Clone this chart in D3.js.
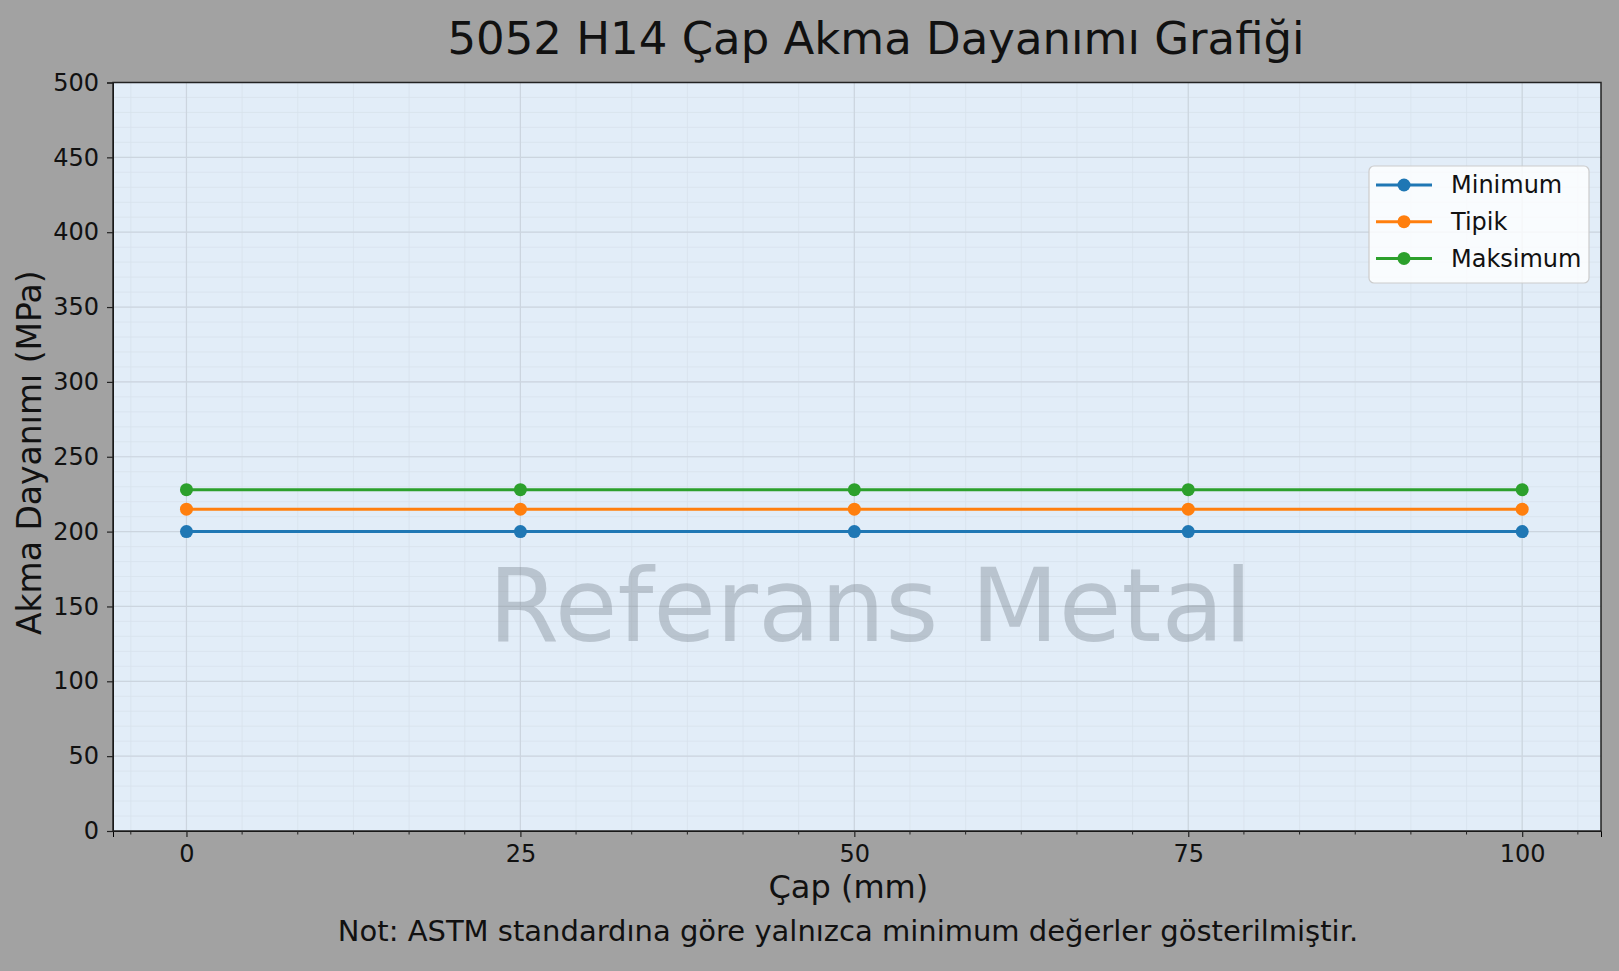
<!DOCTYPE html>
<html>
<head>
<meta charset="utf-8">
<script src="https://cdn.jsdelivr.net/npm/d3@7"></script>
<style>
  html, body { margin: 0; padding: 0; background: #a2a2a2; }
  svg { display: block; font-family: "DejaVu Sans", sans-serif; }
</style>
</head>
<body>
<div id="chart"></div>
<script>
const diameters = [0, 25, 50, 75, 100];
const minimumValues = [200, 200, 200, 200, 200];
const typicalValues = [215, 215, 215, 215, 215];
const maximumValues = [228, 228, 228, 228, 228];
const seriesNames = ["Minimum", "Tipik", "Maksimum"];
const xTicks = [0, 25, 50, 75, 100];
const yTicks = [0, 50, 100, 150, 200, 250, 300, 350, 400, 450, 500];

const width = 1619;
const height = 971;
const margin = { top: 82.5, right: 18, bottom: 140, left: 113 };
const innerWidth = width - margin.left - margin.right;
const innerHeight = height - margin.top - margin.bottom;

const colors = ["#1f77b4", "#ff7f0e", "#2ca02c"];
const series = [minimumValues, typicalValues, maximumValues].map((vals, i) => ({
  name: seriesNames[i],
  color: colors[i],
  points: diameters.map((d, j) => ({ x: d, y: vals[j] }))
}));

const svg = d3.select("#chart").append("svg")
  .attr("width", width)
  .attr("height", height);

svg.append("rect")
  .attr("width", width)
  .attr("height", height)
  .attr("fill", "#a2a2a2");

const g = svg.append("g")
  .attr("transform", `translate(${margin.left},${margin.top})`);

const x = d3.scaleLinear().domain([-5.5, 105.9]).range([0, innerWidth]);
const y = d3.scaleLinear().domain([0, 500]).range([innerHeight, 0]);

// plot background
g.append("rect")
  .attr("width", innerWidth)
  .attr("height", innerHeight)
  .attr("fill", "#e2edf8");

// minor grid
const xMinor = d3.range(-1, 26).map(k => k * 25 / 6).filter(v => v > -5.5 && v < 105.9);
const yMinor = d3.range(0, 501, 10);

g.append("g")
  .selectAll("line")
  .data(xMinor)
  .join("line")
  .attr("x1", d => x(d)).attr("x2", d => x(d))
  .attr("y1", 0).attr("y2", innerHeight)
  .attr("stroke", "#d8e2ec")
  .attr("stroke-width", 0.8);

g.append("g")
  .selectAll("line")
  .data(yMinor)
  .join("line")
  .attr("x1", 0).attr("x2", innerWidth)
  .attr("y1", d => y(d)).attr("y2", d => y(d))
  .attr("stroke", "#d8e2ec")
  .attr("stroke-width", 0.8);

// major grid
g.append("g")
  .selectAll("line")
  .data(xTicks)
  .join("line")
  .attr("x1", d => x(d)).attr("x2", d => x(d))
  .attr("y1", 0).attr("y2", innerHeight)
  .attr("stroke", "#ccd5df")
  .attr("stroke-width", 1.2);

g.append("g")
  .selectAll("line")
  .data(yTicks)
  .join("line")
  .attr("x1", 0).attr("x2", innerWidth)
  .attr("y1", d => y(d)).attr("y2", d => y(d))
  .attr("stroke", "#ccd5df")
  .attr("stroke-width", 1.2);

// watermark
g.append("text")
  .attr("x", x(50) + 16)
  .attr("y", y(0) - 190)
  .attr("text-anchor", "middle")
  .style("font-size", "102px")
  .style("fill", "#7d8690")
  .style("fill-opacity", 0.4)
  .text("Referans Metal");

// lines + markers
const line = d3.line().x(d => x(d.x)).y(d => y(d.y));

series.forEach(s => {
  g.append("path")
    .datum(s.points)
    .attr("d", line)
    .attr("fill", "none")
    .attr("stroke", s.color)
    .attr("stroke-width", 3);

  g.append("g")
    .selectAll("circle")
    .data(s.points)
    .join("circle")
    .attr("cx", d => x(d.x))
    .attr("cy", d => y(d.y))
    .attr("r", 6.5)
    .attr("fill", s.color);
});

// axes
const xAxis = g.append("g")
  .attr("transform", `translate(0,${innerHeight})`)
  .call(d3.axisBottom(x).tickValues(xTicks).tickSize(6).tickPadding(8).tickFormat(d3.format("d")));

// minor ticks (no labels)
g.append("g")
  .selectAll("line")
  .data(xMinor.filter(v => !xTicks.includes(Math.round(v * 1000) / 1000)))
  .join("line")
  .attr("x1", d => x(d)).attr("x2", d => x(d))
  .attr("y1", innerHeight).attr("y2", innerHeight + 3.5)
  .attr("stroke", "#222")
  .attr("stroke-width", 1);

const yAxis = g.append("g")
  .call(d3.axisLeft(y).tickValues(yTicks).tickSize(6).tickPadding(8));

[xAxis, yAxis].forEach(a => {
  a.selectAll("text")
    .style("font-size", "24px")
    .style("font-family", "'DejaVu Sans', sans-serif")
    .style("fill", "#111");
  a.selectAll("line").attr("stroke", "#222").attr("stroke-width", 1.2);
});

// frame
g.append("rect")
  .attr("width", innerWidth)
  .attr("height", innerHeight)
  .attr("fill", "none")
  .attr("stroke", "#222")
  .attr("stroke-width", 1.5);

// title
svg.append("text")
  .attr("x", 876)
  .attr("y", 54)
  .attr("text-anchor", "middle")
  .style("font-size", "45px")
  .style("fill", "#111")
  .text("5052 H14 Çap Akma Dayanımı Grafiği");

// axis labels
svg.append("text")
  .attr("x", margin.left + x(50) - 6)
  .attr("y", 898)
  .attr("text-anchor", "middle")
  .style("font-size", "32px")
  .style("fill", "#111")
  .text("Çap (mm)");

svg.append("text")
  .attr("transform", `translate(41,${margin.top + innerHeight / 2 - 4}) rotate(-90)`)
  .attr("text-anchor", "middle")
  .style("font-size", "33px")
  .style("fill", "#111")
  .text("Akma Dayanımı (MPa)");

// note
svg.append("text")
  .attr("x", 848)
  .attr("y", 941)
  .attr("text-anchor", "middle")
  .style("font-size", "29px")
  .style("fill", "#111")
  .text("Not: ASTM standardına göre yalnızca minimum değerler gösterilmiştir.");

// legend
const legend = svg.append("g")
  .attr("transform", "translate(1369,166)");

legend.append("rect")
  .attr("width", 220)
  .attr("height", 117)
  .attr("rx", 5)
  .attr("fill", "#ffffff")
  .attr("fill-opacity", 0.8)
  .attr("stroke", "#cccccc")
  .attr("stroke-width", 1.2);

series.forEach((s, i) => {
  const row = legend.append("g")
    .attr("transform", `translate(0,${19 + i * 36.7})`);
  row.append("line")
    .attr("x1", 7).attr("x2", 63)
    .attr("stroke", s.color)
    .attr("stroke-width", 3);
  row.append("circle")
    .attr("cx", 35)
    .attr("r", 6.5)
    .attr("fill", s.color);
  row.append("text")
    .attr("x", 82)
    .attr("dy", "0.35em")
    .style("font-size", "24px")
    .style("fill", "#111")
    .text(s.name);
});
</script>
</body>
</html>
